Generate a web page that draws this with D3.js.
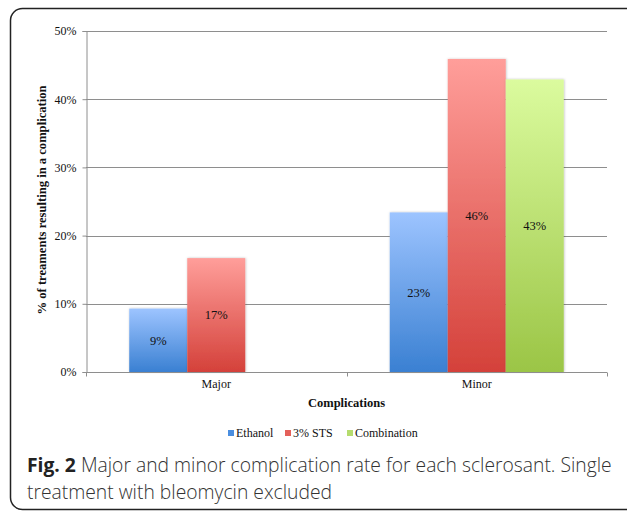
<!DOCTYPE html>
<html>
<head>
<meta charset="utf-8">
<script src="https://cdn.jsdelivr.net/npm/d3@7"></script>
<style>
  html, body { margin: 0; padding: 0; background: #fff; }
  svg { display: block; }
</style>
</head>
<body>
<svg id="chart" width="627" height="513"></svg>
<script>
// Complication rates (% of treatments) by sclerosant
const categories = ["Major", "Minor"];
const seriesNames = ["Ethanol", "3% STS", "Combination"];
const ethanol = [9.3, 23.4];
const sts = [16.7, 45.9];
const combination = [null, 42.9];
const yTicks = [0, 10, 20, 30, 40, 50];

const seriesValues = [ethanol, sts, combination];
const colorsTop = ["#9dc4ff", "#ff9e9a", "#dbfb9e"];
const colorsBottom = ["#3a80d2", "#d4413a", "#9bc546"];
const legendColors = ["#4a8ee0", "#e4605a", "#b5dc6e"];

const svg = d3.select("#chart");
const defs = svg.append("defs");

// Vertical gradients for each series
seriesNames.forEach((s, i) => {
  const g = defs.append("linearGradient")
    .attr("id", "grad" + i)
    .attr("x1", 0).attr("y1", 0).attr("x2", 0).attr("y2", 1);
  g.append("stop").attr("offset", "0%").attr("stop-color", colorsTop[i]);
  g.append("stop").attr("offset", "100%").attr("stop-color", colorsBottom[i]);
});

const shadow = defs.append("filter").attr("id", "shadow")
  .attr("x", "-10%").attr("y", "-10%").attr("width", "120%").attr("height", "120%");
shadow.append("feDropShadow").attr("dx", 0.5).attr("dy", 0).attr("stdDeviation", 0.8)
  .attr("flood-color", "#000").attr("flood-opacity", 0.25);

// Rounded frame around figure
svg.append("rect")
  .attr("x", 10.5).attr("y", 8.5).attr("width", 630).attr("height", 501)
  .attr("rx", 12).attr("ry", 12)
  .attr("fill", "none").attr("stroke", "#222").attr("stroke-width", 1.5);

const plot = { left: 86, right: 607, top: 31, bottom: 372 };

const x0 = d3.scaleBand().domain(categories)
  .range([plot.left, plot.right]).paddingInner(0.332).paddingOuter(0.166);
const x1 = d3.scaleBand().domain(seriesNames).range([0, x0.bandwidth()]);
const y = d3.scaleLinear().domain([0, 50]).range([plot.bottom, plot.top]);

const serif = "'Liberation Serif', 'Times New Roman', serif";
const gridColor = "#8e8e8e";

// Gridlines
svg.append("g").selectAll("line")
  .data(yTicks.filter(t => t > 0))
  .join("line")
  .attr("x1", plot.left).attr("x2", plot.right)
  .attr("y1", d => Math.round(y(d)) + 0.5).attr("y2", d => Math.round(y(d)) + 0.5)
  .attr("stroke", gridColor).attr("stroke-width", 1);

// Bars
const groups = svg.append("g").selectAll("g")
  .data(categories.map((c, ci) => ({ c, ci })))
  .join("g")
  .attr("transform", d => `translate(${x0(d.c)},0)`);

groups.selectAll("rect")
  .data(d => seriesNames.map((s, si) => ({ s, si, v: seriesValues[si][d.ci] })).filter(e => e.v != null))
  .join("rect")
  .attr("x", d => x1(d.s))
  .attr("width", x1.bandwidth())
  .attr("y", d => y(d.v))
  .attr("height", d => y(0) - y(d.v))
  .attr("fill", d => `url(#grad${d.si})`)
  .attr("filter", "url(#shadow)");

// Value labels centred in each bar
groups.selectAll("text")
  .data(d => seriesNames.map((s, si) => ({ s, si, v: seriesValues[si][d.ci] })).filter(e => e.v != null))
  .join("text")
  .attr("x", d => x1(d.s) + x1.bandwidth() / 2)
  .attr("y", d => (y(d.v) + y(0)) / 2)
  .attr("dy", "0.35em")
  .attr("text-anchor", "middle")
  .attr("font-family", serif).attr("font-size", 12.5).attr("fill", "#111")
  .text(d => Math.round(d.v) + "%");

// Y axis
const yAxis = svg.append("g")
  .attr("transform", `translate(${plot.left + 0.5},0)`)
  .call(d3.axisLeft(y).tickValues(yTicks).tickFormat(d => d + "%").tickSizeOuter(0).tickSize(4).tickPadding(6));
yAxis.select(".domain").attr("stroke", gridColor);
yAxis.selectAll(".tick line").attr("stroke", gridColor);
yAxis.selectAll("text").attr("font-family", serif).attr("font-size", 12).attr("fill", "#111");

// X axis with boundary ticks between categories
const xAxisG = svg.append("g").attr("transform", `translate(0,${plot.bottom + 0.5})`);
xAxisG.append("line")
  .attr("x1", plot.left).attr("x2", plot.right)
  .attr("stroke", gridColor);
const bounds = [plot.left, ...categories.slice(1).map(c => x0(c) - x0.step() * x0.paddingInner() / 2), plot.right];
xAxisG.selectAll(".tb").data(bounds).join("line")
  .attr("class", "tb")
  .attr("x1", d => Math.round(d) + 0.5).attr("x2", d => Math.round(d) + 0.5)
  .attr("y1", 0).attr("y2", 4)
  .attr("stroke", gridColor);
xAxisG.selectAll("text").data(categories).join("text")
  .attr("x", d => x0(d) + x0.bandwidth() / 2)
  .attr("y", 15)
  .attr("text-anchor", "middle")
  .attr("font-family", serif).attr("font-size", 12).attr("fill", "#111")
  .text(d => d);

// Axis titles
svg.append("text")
  .attr("x", (plot.left + plot.right) / 2).attr("y", 407)
  .attr("text-anchor", "middle")
  .attr("font-family", serif).attr("font-size", 12.5).attr("font-weight", "bold").attr("fill", "#111")
  .text("Complications");

svg.append("text")
  .attr("transform", `translate(46,200) rotate(-90)`)
  .attr("text-anchor", "middle")
  .attr("font-family", serif).attr("font-size", 12.6).attr("font-weight", "bold").attr("fill", "#111")
  .text("% of treaments resulting in a complication");

// Legend
const legendX = [228, 285, 347];
const legend = svg.append("g").selectAll("g").data(seriesNames).join("g")
  .attr("transform", (d, i) => `translate(${legendX[i]},433)`);
legend.append("rect")
  .attr("x", 0).attr("y", -3).attr("width", 6).attr("height", 6)
  .attr("fill", (d, i) => legendColors[i]);
legend.append("text")
  .attr("x", 8).attr("y", 0).attr("dy", "0.35em")
  .attr("font-family", serif).attr("font-size", 12).attr("fill", "#111")
  .text(d => d);

// Caption
const cap = svg.append("text")
  .attr("font-family", "'Open Sans', sans-serif").attr("font-size", 19.3).attr("fill", "#333");
const line1 = cap.append("tspan").attr("x", 27).attr("y", 472);
line1.append("tspan").attr("font-weight", "bold").attr("fill", "#222").text("Fig. 2");
line1.append("tspan").attr("font-weight", 300).text(" Major and minor complication rate for each sclerosant. Single");
cap.append("tspan").attr("x", 27).attr("y", 499).attr("font-weight", 300).text("treatment with bleomycin excluded");
</script>
</body>
</html>
